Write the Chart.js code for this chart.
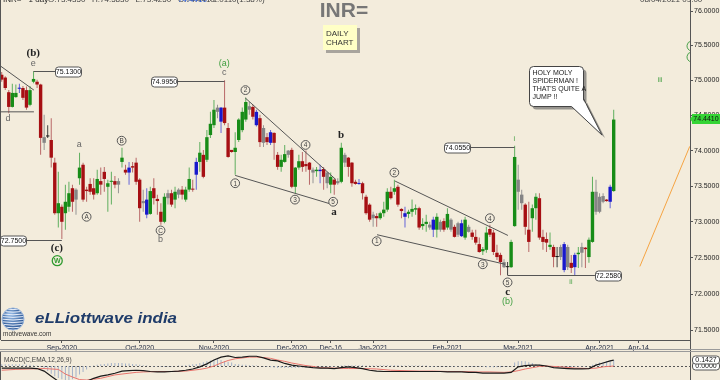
<!DOCTYPE html>
<html>
<head>
<meta charset="utf-8">
<script src="https://cdn.jsdelivr.net/npm/chart.js@4.4.0/dist/chart.umd.min.js"></script>
<style>
  html, body { margin: 0; padding: 0; background: #f3ecdc; }
  #wrap { position: relative; width: 720px; height: 380px; overflow: hidden; background: #f3ecdc; }
  #price { position: absolute; left: 0; top: 0; }
  #macd { position: absolute; left: 0; top: 352px; }
</style>
</head>
<body>
<div id="wrap">
  <canvas id="price" width="720" height="352"></canvas>
  <canvas id="macd" width="720" height="28"></canvas>
</div>
<script>
// INR= daily candles, Aug-2020 .. Apr-2021 (one entry per trading day)
const candleOpen = [
  75.08,75.04,74.83,74.62,74.76,74.88,74.89,74.86,74.65,74.98,
  74.98,74.94,74.19,74.21,74.15,73.83,73.12,73.21,73.12,73.21,
  73.47,73.45,73.61,73.80,73.45,73.53,73.47,73.40,73.57,73.70,
  73.49,73.56,73.57,73.57,73.84,73.73,73.69,73.78,73.83,73.59,
  73.29,73.10,73.11,73.47,73.32,73.14,73.00,73.40,73.40,73.31,
  73.45,73.45,73.31,73.45,73.46,73.66,73.84,73.94,73.87,74.22,
  74.36,74.61,74.41,74.61,74.32,74.01,73.98,74.15,74.29,74.44,
  74.63,74.62,74.36,74.46,74.32,74.19,74.11,74.25,73.94,73.77,
  73.84,74.00,74.01,73.49,73.76,73.85,73.81,73.83,73.73,73.71,
  73.71,73.74,73.69,73.52,73.59,73.57,73.56,73.94,73.90,73.83,
  73.56,73.53,73.54,73.35,73.24,73.10,73.08,73.05,73.12,73.17,
  73.42,73.42,73.49,73.18,73.07,73.11,73.14,73.17,73.19,72.94,
  72.97,72.96,72.89,72.89,73.00,73.01,72.92,73.03,72.93,72.98,
  72.80,72.78,72.93,72.85,72.79,72.69,72.59,72.61,72.90,72.85,
  72.57,72.54,72.44,72.38,72.37,72.94,73.59,73.38,73.24,72.89,
  73.05,73.19,73.33,72.79,72.76,72.65,72.65,72.51,72.65,72.33,
  72.65,72.43,72.37,72.55,72.65,72.64,72.51,72.72,73.42,73.35,
  73.36,73.31,73.28,73.43
];
const candleHigh = [
  75.12,75.06,74.86,74.95,74.94,74.95,74.92,74.91,74.92,75.13,
  75.01,74.95,74.51,74.36,74.46,73.90,73.70,73.24,73.52,73.56,
  73.52,73.47,73.97,73.83,73.49,73.61,73.61,73.73,73.76,73.77,
  73.59,73.70,73.64,73.61,74.04,73.80,73.84,73.84,73.90,73.61,
  73.45,73.47,73.49,73.61,73.38,73.26,73.40,73.45,73.45,73.49,
  73.47,73.50,73.49,73.76,73.59,73.90,74.12,74.01,74.29,74.55,
  74.72,74.65,74.62,75.00,74.39,74.01,74.26,74.46,74.61,74.75,
  74.69,74.65,74.58,74.51,74.36,74.25,74.29,74.26,73.98,73.94,
  74.08,74.01,74.04,73.77,73.94,73.98,74.00,73.84,73.76,73.77,
  73.80,73.77,73.70,73.69,73.61,73.61,74.11,73.97,73.91,73.84,
  73.59,73.60,73.56,73.38,73.26,73.14,73.12,73.14,73.28,73.47,
  73.49,73.59,73.52,73.19,73.21,73.17,73.31,73.24,73.21,73.05,
  73.10,73.00,73.07,73.12,73.03,73.05,73.19,73.05,72.96,73.00,
  73.03,73.07,72.96,72.89,72.89,72.78,72.65,72.93,72.96,72.89,
  72.68,72.57,72.48,72.44,72.75,74.07,73.80,73.45,73.26,73.28,
  73.24,73.40,73.40,72.89,72.85,72.85,72.68,72.65,72.68,72.72,
  72.68,72.54,72.57,72.65,72.71,72.65,72.78,73.63,73.59,73.40,
  73.40,73.32,73.52,74.58
];
const candleLow = [
  74.98,74.86,74.53,74.61,74.75,74.82,74.72,74.58,74.63,74.96,
  74.89,73.94,74.01,74.18,73.76,73.10,72.92,72.76,72.89,73.14,
  73.14,73.10,73.52,73.28,73.28,73.38,73.31,73.38,73.38,73.42,
  73.14,73.24,73.47,73.40,73.76,73.66,73.52,73.69,73.52,73.00,
  73.14,73.05,73.10,73.24,73.10,72.96,72.98,73.24,73.21,73.19,
  73.33,73.31,73.28,73.42,73.42,73.45,73.70,73.61,73.84,74.18,
  74.32,74.46,74.25,74.36,73.90,73.97,73.66,74.12,74.26,74.41,
  74.51,74.44,74.34,74.05,74.05,74.08,74.08,73.87,73.73,73.70,
  73.83,73.90,73.47,73.40,73.73,73.70,73.70,73.52,73.54,73.63,
  73.54,73.45,73.47,73.40,73.38,73.52,73.54,73.77,73.63,73.49,
  73.52,73.52,73.31,73.10,73.00,72.93,72.93,73.03,73.07,73.14,
  73.31,73.38,73.21,73.05,72.92,73.05,73.07,73.10,72.89,72.89,
  72.86,72.89,72.79,72.78,72.86,72.86,72.89,72.86,72.78,72.79,
  72.79,72.75,72.85,72.75,72.68,72.57,72.54,72.57,72.79,72.54,
  72.47,72.26,72.36,72.26,72.36,72.93,73.17,73.17,72.82,72.58,
  72.86,73.03,72.75,72.61,72.58,72.61,72.37,72.37,72.47,72.30,
  72.33,72.29,72.26,72.36,72.37,72.36,72.43,72.71,73.10,73.12,
  73.26,73.28,73.19,73.42
];
const candleClose = [
  75.01,74.89,74.62,74.82,74.82,74.89,74.75,74.61,74.86,75.02,
  74.94,74.18,74.11,74.20,73.90,73.12,73.26,73.00,73.28,73.40,
  73.28,73.31,73.76,73.31,73.43,73.42,73.38,73.60,73.52,73.60,
  73.54,73.57,73.52,73.52,73.90,73.69,73.76,73.76,73.56,73.19,
  73.26,73.31,73.43,73.33,73.29,73.00,73.35,73.33,73.24,73.42,
  73.38,73.38,73.45,73.60,73.45,73.84,73.97,73.63,74.19,74.38,
  74.58,74.55,74.61,74.39,73.91,73.98,74.04,74.44,74.55,74.69,
  74.58,74.48,74.55,74.12,74.11,74.12,74.26,74.11,73.77,73.87,
  73.95,73.94,73.49,73.76,73.85,73.77,73.78,73.73,73.69,73.73,
  73.73,73.63,73.54,73.63,73.52,73.54,74.04,73.83,73.77,73.54,
  73.53,73.54,73.40,73.12,73.03,73.05,73.05,73.12,73.17,73.42,
  73.33,73.47,73.24,73.15,73.12,73.14,73.18,73.19,72.92,72.97,
  73.00,72.92,73.03,73.07,72.89,72.89,73.11,72.89,72.79,72.82,
  72.98,73.03,72.86,72.79,72.71,72.58,72.62,72.85,72.82,72.58,
  72.51,72.44,72.37,72.37,72.72,73.91,73.42,73.26,72.93,72.72,
  73.19,73.35,72.78,72.72,72.71,72.68,72.51,72.51,72.51,72.69,
  72.37,72.36,72.54,72.57,72.57,72.62,72.75,73.42,73.14,73.14,
  73.28,73.29,73.49,74.44
];
// bar colouring used by the platform: g up, r down, b blue, n grey, k black
const candleTone = ("rrrggbrrgg" + "rrnkrrgrgg" + "rngrrrrgrr" + "ggrngrbrrr" + "nbgrrrgnrg" +
  "nrggrbgrgg" + "gnbrrrgggg" + "nrbrnrbrrg" + "gnrggrrrng" + "brngrngnrr" +
  "rbrrrnrggg" + "rgrrbgggrg" + "gnbgnrgnrn" + "bgnrrrggrr" + "rrnkggnnrr" +
  "ggrrrgrknb" + "nrbgnrggnn" + "nrbg").split("");

// x axis: bar index of each month label
const xTickIdx  = [17, 39, 60, 82, 93, 105, 126, 146, 169, 180];
const xTickText = ["Sep-2020", "Oct-2020", "Nov-2020", "Dec-2020", "Dec-16",
                   "Jan-2021", "Feb-2021", "Mar-2021", "Apr-2021", "Apr-14"];
const yTickValues = [71.5, 72, 72.5, 73, 73.5, 74, 74.5, 75, 75.5, 76];

// MACD(12,26,9) panel: [bar index, value]
const macdLine = [
  [0,-0.05],[4,-0.05],[8,-0.05],[10,-0.06],[12,-0.12],[14,-0.24],[16,-0.36],[18,-0.43],[20,-0.45],[22,-0.45],
  [24,-0.36],[26,-0.29],[28,-0.24],[30,-0.21],[32,-0.17],[34,-0.12],[36,-0.11],[38,-0.10],[40,-0.11],[42,-0.13],
  [44,-0.14],[46,-0.14],[48,-0.13],[50,-0.12],[52,-0.10],[54,-0.07],[56,-0.02],[58,0.05],[60,0.14],[62,0.21],
  [64,0.24],[66,0.20],[68,0.21],[70,0.23],[72,0.23],[74,0.19],[76,0.14],[78,0.12],[80,0.06],[82,0.02],
  [84,0.00],[86,-0.02],[88,-0.04],[90,-0.05],[92,-0.05],[94,-0.06],[96,-0.04],[98,-0.02],[100,-0.04],[102,-0.06],
  [104,-0.10],[106,-0.12],[108,-0.13],[112,-0.13],[116,-0.13],[120,-0.13],[124,-0.13],[126,-0.14],[130,-0.14],[132,-0.15],
  [134,-0.15],[136,-0.17],[140,-0.17],[142,-0.17],[144,-0.15],[146,-0.02],[148,0.01],[150,0.02],[152,0.02],[154,0.00],
  [156,-0.04],[158,-0.05],[160,-0.06],[162,-0.07],[164,-0.07],[166,-0.06],[168,0.02],[170,0.07],[172,0.12],[173,0.14]
];
const macdSignal = [
  [0,-0.10],[4,-0.08],[8,-0.07],[12,-0.06],[16,-0.08],[18,-0.19],[20,-0.26],[22,-0.32],[24,-0.33],[26,-0.31],
  [28,-0.29],[30,-0.25],[32,-0.21],[34,-0.19],[36,-0.17],[38,-0.15],[40,-0.14],[44,-0.13],[48,-0.13],[52,-0.12],
  [56,-0.08],[58,-0.05],[60,0.00],[62,0.07],[64,0.13],[66,0.17],[68,0.19],[70,0.21],[72,0.21],[74,0.20],
  [76,0.18],[78,0.14],[80,0.11],[82,0.07],[84,0.04],[86,0.01],[88,-0.01],[90,-0.04],[94,-0.05],[98,-0.06],
  [102,-0.06],[106,-0.07],[110,-0.10],[114,-0.11],[118,-0.12],[122,-0.12],[126,-0.13],[130,-0.13],[134,-0.14],[138,-0.14],
  [142,-0.15],[144,-0.14],[146,-0.11],[148,-0.07],[150,-0.04],[152,-0.01],[154,0.00],[156,-0.01],[158,-0.02],[162,-0.05],
  [166,-0.06],[168,-0.05],[170,-0.02],[173,0.00]
];
const macdHist = [
  0.04,0.04,0.04,0.04,0.04,0.04,0.03,0.03,0.03,0.02,0.01,-0.02,
  -0.06,-0.12,-0.18,-0.24,-0.28,-0.31,-0.33,-0.33,-0.31,-0.27,-0.20,-0.14,-0.08,-0.03,0.01,
  0.03,0.04,0.05,0.06,0.07,0.07,0.07,0.07,0.06,0.06,0.05,0.04,0.03,0.02,
  0.01,0.00,-0.01,-0.01,-0.02,-0.02,-0.02,-0.01,0.00,0.01,0.01,0.02,0.03,0.04,0.05,
  0.07,0.09,0.11,0.13,0.15,0.16,0.14,0.12,0.10,0.08,0.05,
  0.04,0.03,0.03,0.02,0.02,0.01,0.00,-0.01,-0.02,
  -0.03,-0.04,-0.05,-0.05,-0.05,-0.05,-0.05,-0.05,-0.05,-0.04,-0.04,-0.03,-0.03,-0.02,-0.02,-0.01,-0.01,-0.01,-0.01,0.00,
  0.01,0.02,0.02,0.02,0.02,0.02,0.02,0.01,0.01,0.01,0.01,0.02,0.02,0.02,0.02,0.02,0.02,0.01,0.01,0.01,0.01,0.01,0.01,0.01,0.01,
  -0.01,-0.01,-0.01,-0.01,-0.01,-0.01,-0.01,-0.01,-0.01,-0.01,-0.01,-0.01,-0.02,-0.02,-0.02,-0.02,-0.03,-0.03,-0.03,-0.03,-0.03,-0.02,-0.02,
  -0.01,0.08,0.11,0.12,0.11,0.09,0.07,0.05,0.03,
  0.01,0.00,-0.01,-0.02,-0.02,-0.03,-0.03,-0.03,-0.03,-0.02,-0.02,-0.01,-0.01,0.00,
  0.03,0.06,0.08,0.09,0.11,0.12,0.14
];

// ---- Elliott wave markup (bar index, price) ----
const trendLines = [
  [-0.2, 75.20, 9.1, 74.86],
  [-0.2, 74.55, 9.1, 74.55],
  [68.8, 74.75, 94.5, 73.59],
  [66.0, 73.65, 93.6, 73.24],
  [111.2, 73.57, 143.1, 72.81],
  [106.1, 72.82, 142.3, 72.41]
];
const projection = [180.4, 72.38, 194.5, 74.06];

const priceTags = [
  { text: "75.1300", from: 9,   to: 15.1,  p: 75.13,  side: "right" },
  { text: "74.9950", from: 63,  to: 49.6,  p: 74.995, side: "left" },
  { text: "72.7500", from: 17,  to: 6.9,   p: 72.75,  side: "left" },
  { text: "74.0550", from: 145, to: 132.4, p: 74.055, side: "left" },
  { text: "72.2580", from: 143, to: 167.7, p: 72.258, side: "right" }
];

const waveText = [
  { t: "(b)", i: 8.9,   p: 75.39, kind: "bold" },
  { t: "e",   i: 8.9,   p: 75.24, kind: "minor" },
  { t: "d",   i: 1.8,   p: 74.45, kind: "minor" },
  { t: "(a)", i: 62.9,  p: 75.24, kind: "green" },
  { t: "c",   i: 62.9,  p: 75.11, kind: "minor" },
  { t: "a",   i: 21.9,  p: 74.08, kind: "minor" },
  { t: "b",   i: 44.9,  p: 72.76, kind: "minor" },
  { t: "(c)", i: 15.6,  p: 72.64, kind: "bold" },
  { t: "a",   i: 93.9,  p: 73.13, kind: "bold" },
  { t: "b",   i: 95.9,  p: 74.22, kind: "bold" },
  { t: "c",   i: 143.0, p: 72.02, kind: "bold" },
  { t: "(b)", i: 143.0, p: 71.89, kind: "green" },
  { t: "i",   i: 144.9, p: 74.17, kind: "greenSmall" },
  { t: "ii",  i: 160.9, p: 72.17, kind: "greenSmall" },
  { t: "iii", i: 186.1, p: 75.01, kind: "greenSmall" }
];
const waveCircles = [
  { t: "B", i: 33.9, p: 74.14 }, { t: "A", i: 24.0, p: 73.07 }, { t: "C", i: 44.9, p: 72.88 },
  { t: "W", i: 15.7, p: 72.46, green: true },
  { t: "1", i: 66.0, p: 73.54 }, { t: "2", i: 68.9, p: 74.86 }, { t: "3", i: 82.9, p: 73.31 },
  { t: "4", i: 85.9, p: 74.08 }, { t: "5", i: 93.7, p: 73.28 },
  { t: "1", i: 106.0, p: 72.73 }, { t: "2", i: 111.0, p: 73.69 }, { t: "3", i: 136.0, p: 72.41 },
  { t: "4", i: 138.0, p: 73.05 }, { t: "5", i: 143.0, p: 72.16 }
];
const calloutTip = { i: 169.7, p: 74.22 };
const calloutLines = ["HOLY MOLY", "SPIDERMAN !", "THAT'S QUITE A", "JUMP !!"];
const lastPrice = 74.441;
const macdLast = 0.1427;

Chart.defaults.font.family = '"Liberation Sans", Arial, sans-serif';
const BG = "#f3ecdc";
const toneFill = { g: "#178c17", r: "#a60f13", b: "#1818cc", n: "#858585", k: "#151515" };
const toneWick = { g: "#5faf5f", r: "#b86868", b: "#6464d8", n: "#959595", k: "#404040" };
const X_MIN = -0.2, X_MAX = 194.57;

const wickData = candleOpen.map((o, i) => ({ x: i, y: [candleLow[i], candleHigh[i]] }));
const bodyData = candleOpen.map((o, i) => ({
  x: i, y: [Math.min(o, candleClose[i]), Math.max(o, candleClose[i])]
}));

function txt(ctx, s, x, y, font, color, align = "center", base = "middle") {
  ctx.font = font;
  ctx.fillStyle = color;
  ctx.textAlign = align;
  ctx.textBaseline = base;
  ctx.fillText(s, x, y);
}

function tag(ctx, x, y, w, h, s, fill, stroke, color) {
  ctx.beginPath();
  ctx.roundRect(x + 0.5, y + 0.5, w, h, 3);
  ctx.fillStyle = fill;
  ctx.fill();
  ctx.strokeStyle = stroke;
  ctx.lineWidth = 1;
  ctx.stroke();
  txt(ctx, s, x + w / 2 + 0.5, y + h / 2 + 1, '7px "Liberation Sans"', color);
}

function line(ctx, x1, y1, x2, y2, color, w = 1) {
  ctx.beginPath();
  ctx.moveTo(x1, y1);
  ctx.lineTo(x2, y2);
  ctx.strokeStyle = color;
  ctx.lineWidth = w;
  ctx.stroke();
}

const decor = {
  id: "decor",
  afterDraw(chart) {
    const { ctx, chartArea: a } = chart;
    const X = (i) => chart.scales.x.getPixelForValue(i);
    const Y = (p) => chart.scales.y.getPixelForValue(p);
    ctx.save();

    // frame bits, panel separator
    line(ctx, 0.5, 0, 0.5, a.bottom, "#555");
    line(ctx, a.right + 0.5, a.bottom, a.right + 0.5, 352, "#555");
    line(ctx, 0, 349.5, 720, 349.5, "#9a9a9a");
    line(ctx, 0, 351.5, 720, 351.5, "#9a9a9a");

    // header (clipped at top)
    txt(ctx, "INR= · 1 day", 3, 2, '8px "Liberation Sans"', "#222", "left", "alphabetic");
    txt(ctx, "O:73.4350   H:74.5830   L:73.4250   C:74.4410", 48, 2, '8px "Liberation Sans"', "#444", "left", "alphabetic");
    txt(ctx, "74.4410", 178, 2, '8px "Liberation Sans"', "#2a5bd7", "left", "alphabetic");
    txt(ctx, "+1.0110(1.38%)", 208, 2, '8px "Liberation Sans"', "#444", "left", "alphabetic");
    txt(ctx, "08/04/2021 09:00", 640, 2, '8px "Liberation Sans"', "#444", "left", "alphabetic");

    // title and note
    txt(ctx, "INR=", 344, 11, 'bold 21px "Liberation Sans"', "#777");
    ctx.fillStyle = "rgba(105,105,105,0.55)";
    ctx.fillRect(326, 28, 34, 25);
    ctx.fillStyle = "#ffffc6";
    ctx.fillRect(323, 25, 34, 25);
    txt(ctx, "DAILY", 326, 33.5, '8px "Liberation Sans"', "#333", "left");
    txt(ctx, "CHART", 326, 42.5, '8px "Liberation Sans"', "#333", "left");

    // logo
    ctx.save();
    ctx.beginPath();
    ctx.arc(13, 319, 11, 0, Math.PI * 2);
    ctx.clip();
    const g = ctx.createRadialGradient(10, 314, 2, 13, 319, 12);
    g.addColorStop(0, "#8fb4e0");
    g.addColorStop(1, "#1f4c8c");
    ctx.fillStyle = g;
    ctx.fillRect(1, 307, 24, 24);
    for (let k = -4; k <= 4; k++) {
      ctx.beginPath();
      ctx.moveTo(0, 319 + k * 2.6);
      ctx.quadraticCurveTo(13, 319 + k * 2.6 + 2, 26, 319 + k * 2.6);
      ctx.strokeStyle = "#e8eef8";
      ctx.lineWidth = 1;
      ctx.stroke();
    }
    ctx.restore();
    ctx.beginPath();
    ctx.arc(13, 319, 11, 0, Math.PI * 2);
    ctx.strokeStyle = "#9bb7dc";
    ctx.stroke();
    ctx.save();
    ctx.font = 'italic bold 15px "Liberation Sans"';
    const lw = ctx.measureText("eLLiottwave india").width;
    ctx.translate(35, 319);
    ctx.scale(142 / lw, 1);
    txt(ctx, "eLLiottwave india", 0, 0, 'italic bold 15px "Liberation Sans"', "#1f3c6a", "left");
    ctx.restore();
    txt(ctx, "motivewave.com", 3, 334, '6.5px "Liberation Sans"', "#333", "left");

    // clip the markup to the plot
    ctx.save();
    ctx.beginPath();
    ctx.rect(a.left, a.top, a.right - a.left, a.bottom - a.top);
    ctx.clip();

    trendLines.forEach(([i1, p1, i2, p2]) => line(ctx, X(i1), Y(p1), X(i2), Y(p2), "#555"));
    line(ctx, X(projection[0]), Y(projection[1]), X(projection[2]), Y(projection[3]), "#f5a443");

    priceTags.forEach((t) => {
      const y = Math.round(Y(t.p)) + 0.5;
      line(ctx, X(t.from), y, X(t.to), y, "#555");
      const bx = t.side === "right" ? X(t.to) : X(t.to) - 26;
      tag(ctx, Math.round(bx), Math.round(y) - 5.5, 26, 10, t.text, "#fff", "#555", "#111");
    });

    waveText.forEach((w) => {
      const x = X(w.i), y = Y(w.p);
      if (w.kind === "bold") txt(ctx, w.t, x, y, 'bold 11px "Liberation Serif"', "#222");
      else if (w.kind === "minor") txt(ctx, w.t, x, y, '9px "Liberation Sans"', "#666");
      else if (w.kind === "green") txt(ctx, w.t, x, y, '9px "Liberation Sans"', "#3e9e3e");
      else txt(ctx, w.t, x, y, '7px "Liberation Sans"', "#3e9e3e");
    });

    waveCircles.forEach((c) => {
      const x = X(c.i), y = Y(c.p);
      const r = c.green ? 5 : 4.4;
      ctx.beginPath();
      ctx.arc(x, y, r, 0, Math.PI * 2);
      ctx.fillStyle = BG;
      ctx.fill();
      ctx.strokeStyle = c.green ? "#2f9a2f" : "#555";
      ctx.lineWidth = c.green ? 1.3 : 1;
      ctx.stroke();
      txt(ctx, c.t, x, y + 0.5, c.green ? 'bold 7px "Liberation Sans"' : '6.5px "Liberation Sans"',
        c.green ? "#2f9a2f" : "#444");
    });

    // partly hidden green label at the right edge
    ctx.strokeStyle = "#4aa04a";
    ctx.lineWidth = 1;
    [46, 57].forEach((cy) => {
      ctx.beginPath();
      ctx.arc(a.right + 2, cy, 5, 0.55 * Math.PI, 1.45 * Math.PI);
      ctx.stroke();
    });
    ctx.restore();

    // speech bubble
    const tx = X(calloutTip.i), ty = Y(calloutTip.p);
    const bx = Math.round(tx - 73) + 0.5, by = Math.round(ty - 69) + 0.5, bw = 54, bh = 40;
    const ax = bx + 42, bY = by + bh - 8;
    const shape = (dx) => {
      ctx.beginPath();
      ctx.roundRect(bx + dx, by + dx, bw, bh, 4);
      ctx.moveTo(ax + dx, by + bh + dx);
      ctx.lineTo(tx + dx, ty + dx);
      ctx.lineTo(bx + bw + dx, bY + dx);
      ctx.closePath();
    };
    ctx.fillStyle = "rgba(90,90,90,0.6)";
    shape(3);
    ctx.fill();
    ctx.fillStyle = "#fff";
    ctx.strokeStyle = "#444";
    ctx.lineWidth = 1;
    ctx.beginPath();
    ctx.roundRect(bx, by, bw, bh, 4);
    ctx.fill();
    ctx.stroke();
    ctx.beginPath();
    ctx.moveTo(ax - 1, by + bh - 1);
    ctx.lineTo(tx, ty);
    ctx.lineTo(bx + bw - 1, bY);
    ctx.closePath();
    ctx.fill();
    line(ctx, ax, by + bh, tx, ty, "#444");
    line(ctx, tx, ty, bx + bw, bY, "#444");
    calloutLines.forEach((s, k) => txt(ctx, s, bx + 3, by + 7 + k * 8, '7px "Liberation Sans"', "#222", "left"));

    // last price tag on the axis
    const ly = Math.round(Y(lastPrice));
    ctx.fillStyle = "#35d435";
    ctx.fillRect(a.right + 2, ly - 5, 28, 10);
    ctx.beginPath();
    ctx.moveTo(a.right, ly);
    ctx.lineTo(a.right + 3, ly - 4);
    ctx.lineTo(a.right + 3, ly + 4);
    ctx.fill();
    txt(ctx, "74.4410", a.right + 16, ly + 0.5, '7px "Liberation Sans"', "#111");
    ctx.restore();
  }
};

new Chart(document.getElementById("price"), {
  type: "bar",
  data: {
    datasets: [
      {
        label: "body", data: bodyData, order: 0, grouped: false, barThickness: 3.4,
        inflateAmount: 0, minBarLength: 1, borderWidth: 0, borderSkipped: false,
        backgroundColor: (c) => toneFill[candleTone[c.dataIndex]] || toneFill.n
      },
      {
        label: "wick", data: wickData, order: 1, grouped: false, barThickness: 1,
        inflateAmount: 0, minBarLength: 1, borderWidth: 0, borderSkipped: false,
        backgroundColor: (c) => toneWick[candleTone[c.dataIndex]] || toneWick.n
      }
    ]
  },
  options: {
    responsive: false,
    animation: false,
    devicePixelRatio: 1,
    layout: { padding: { left: 1, right: 0, top: 0, bottom: 0 } },
    plugins: { legend: { display: false }, tooltip: { enabled: false } },
    scales: {
      x: {
        type: "linear", min: X_MIN, max: X_MAX, offset: false,
        afterBuildTicks: (s) => { s.ticks = xTickIdx.map((v) => ({ value: v })); },
        afterFit: (s) => { s.height = 12; s.paddingLeft = 0; s.paddingRight = 0; },
        ticks: {
          callback: (v, idx) => xTickText[idx],
          autoSkip: false, maxRotation: 0, minRotation: 0,
          font: { size: 7 }, color: "#1d2740", padding: 1
        },
        grid: { offset: false, drawOnChartArea: false, drawTicks: true, tickLength: 3, color: "#555" },
        border: { color: "#555" }
      },
      y: {
        type: "logarithmic", position: "right", min: 71.37, max: 76.16,
        afterBuildTicks: (s) => { s.ticks = yTickValues.map((v) => ({ value: v })); },
        afterFit: (s) => { s.width = 30; s.paddingTop = 0; s.paddingBottom = 0; },
        ticks: {
          callback: (v) => Number(v).toFixed(4),
          autoSkip: false, font: { size: 7 }, color: "#222", padding: 1
        },
        grid: { drawOnChartArea: false, drawTicks: true, tickLength: 3, color: "#555" },
        border: { color: "#555" }
      }
    }
  },
  plugins: [decor]
});

const macdDecor = {
  id: "macdDecor",
  beforeDatasetsDraw(chart) {
    const { ctx, chartArea: a } = chart;
    const zy = Math.round(chart.scales.y.getPixelForValue(0)) + 0.5;
    ctx.save();
    ctx.setLineDash([2, 2]);
    line(ctx, a.left, zy, a.right, zy, "#555");
    ctx.restore();
  },
  afterDraw(chart) {
    const { ctx, chartArea: a } = chart;
    const Y = (v) => chart.scales.y.getPixelForValue(v);
    ctx.save();
    line(ctx, 0.5, 0, 0.5, 28, "#555");
    line(ctx, a.right + 0.5, 0, a.right + 0.5, 28, "#555");
    txt(ctx, "MACD(C,EMA,12,26,9)", 4, 8, '6.5px "Liberation Sans"', "#444", "left");
    tag(ctx, a.right + 2, Math.round(Y(0)) - 4.5, 27, 8, "0.0000", "#fff", "#555", "#111");
    tag(ctx, a.right + 2, Math.round(Y(macdLast)) - 4.5, 27, 8, macdLast.toFixed(4), "#fff", "#555", "#111");
    ctx.restore();
  }
};

new Chart(document.getElementById("macd"), {
  type: "bar",
  data: {
    datasets: [
      {
        type: "line", label: "MACD", data: macdLine.map(([x, y]) => ({ x, y })), order: 0,
        borderColor: "#1a1a1a", borderWidth: 1.2, pointRadius: 0, tension: 0
      },
      {
        type: "line", label: "Signal", data: macdSignal.map(([x, y]) => ({ x, y })), order: 1,
        borderColor: "#e8736c", borderWidth: 1, pointRadius: 0, tension: 0
      },
      {
        type: "bar", label: "Hist", data: macdHist.map((v, i) => ({ x: i, y: v })), order: 2,
        grouped: false, barThickness: 1, inflateAmount: 0, backgroundColor: "#a3b1c8", borderWidth: 0
      }
    ]
  },
  options: {
    responsive: false,
    animation: false,
    devicePixelRatio: 1,
    layout: { padding: { left: 1, right: 0, top: 0, bottom: 0 } },
    plugins: { legend: { display: false }, tooltip: { enabled: false } },
    scales: {
      x: { type: "linear", min: X_MIN, max: X_MAX, offset: false, display: false },
      y: {
        position: "right", min: -0.33, max: 0.33,
        afterFit: (s) => { s.width = 30; s.paddingTop = 0; s.paddingBottom = 0; },
        ticks: { display: false },
        grid: { display: false },
        border: { display: false }
      }
    }
  },
  plugins: [macdDecor]
});
</script>
</body>
</html>
